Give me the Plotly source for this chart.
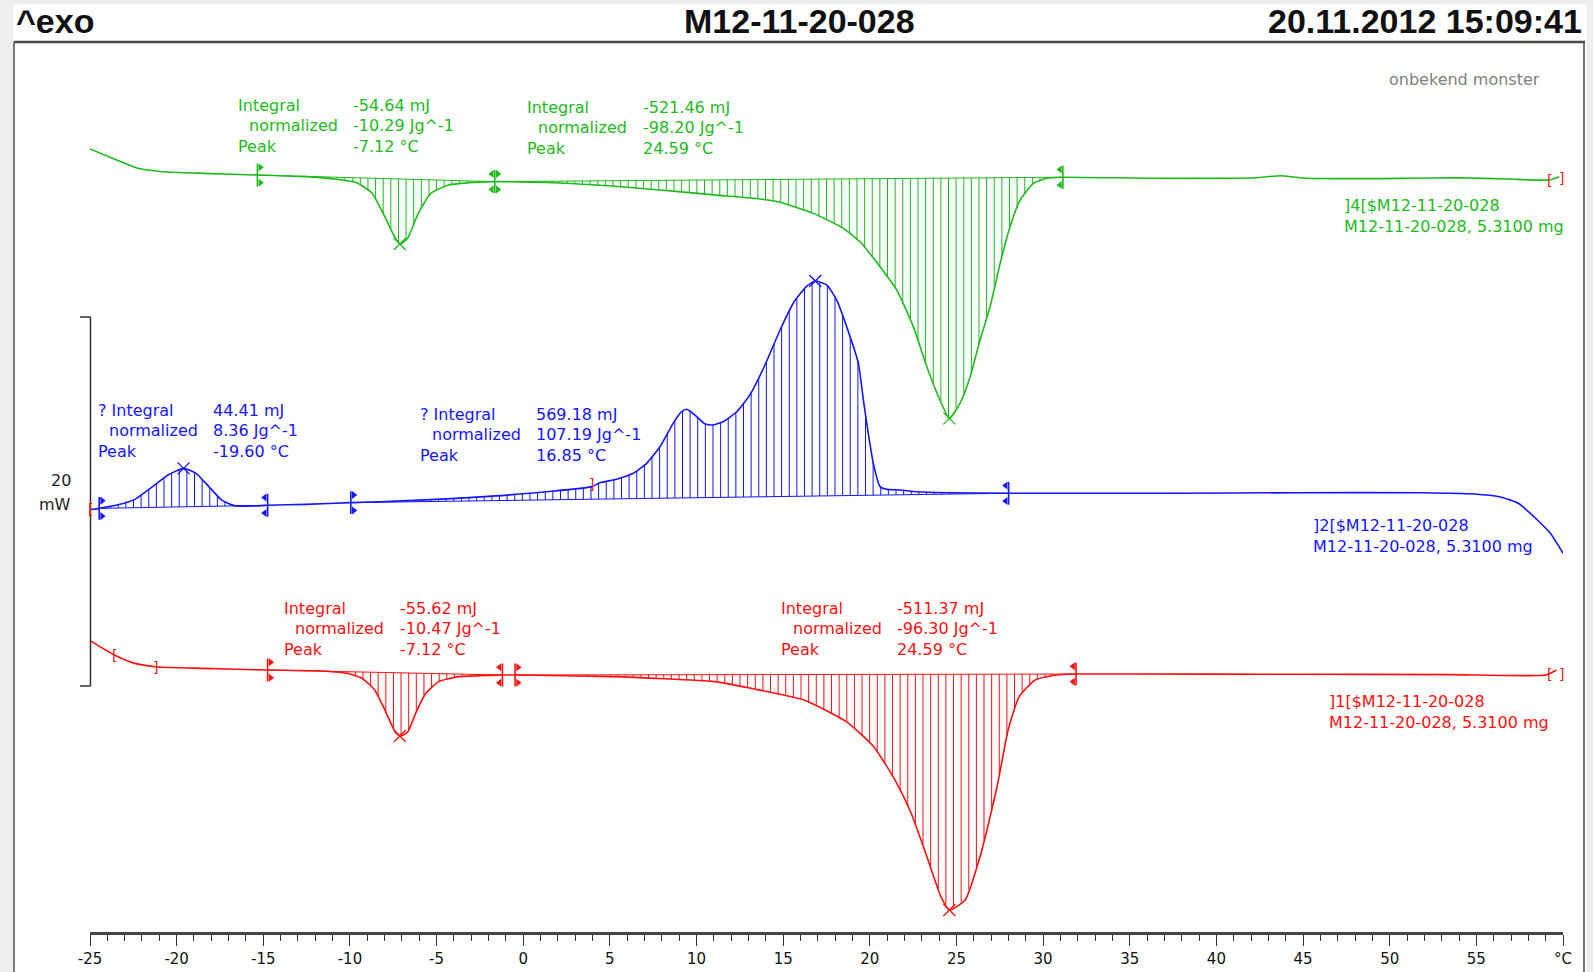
import numpy as np
import plotly.graph_objects as go

# ---------------- data (temperature in °C, heat flow in display mW) ----------------
GREEN_T = [-25.0, -23.46, -22.25, -20.81, -18.44, -15.34, -12.55, -10.78, -9.61, -8.72,
           -7.99, -7.39, -7.10, -6.66, -6.06, -5.33, -4.30, -2.82, -1.64, 2.11,
           5.11, 7.88, 11.0, 13.65, 14.82, 16.74, 18.47, 19.43, 20.59, 21.55,
           22.51, 23.29, 24.05, 24.59, 25.21, 25.79, 26.36, 26.94, 27.52, 28.09,
           28.67, 29.44, 30.21, 31.14, 36.41, 42.24, 43.71, 45.18, 51.02, 53.94,
           56.85, 59.19, 59.78]
GREEN_MW = [42.44, 41.84, 41.39, 41.21, 41.12, 41.03, 40.94, 40.80, 40.61, 40.04,
            38.77, 37.62, 37.29, 37.62, 38.95, 40.04, 40.49, 40.63, 40.67, 40.60,
            40.43, 40.22, 39.95, 39.73, 39.55, 38.95, 38.14, 37.41, 36.06, 34.80,
            32.81, 30.64, 28.83, 27.84, 28.66, 30.10, 32.09, 33.89, 36.24, 38.23,
            39.67, 40.58, 40.85, 40.91, 40.85, 40.88, 40.99, 40.85, 40.85, 40.88,
            40.81, 40.76, 40.94]

BLUE_T = [-25.0, -24.77, -24.47, -23.45, -22.41, -21.39, -20.50, -19.60, -18.88, -18.14,
          -17.40, -16.67, -15.50, -14.75, -12.55, -9.95, -6.66, -0.77, 3.96, 4.42,
          5.39, 6.35, 7.12, 7.89, 8.65, 9.14, 9.43, 9.91, 10.49, 10.96,
          11.54, 12.32, 13.08, 13.95, 14.82, 15.58, 16.36, 16.85, 17.51, 18.09,
          18.86, 19.34, 19.63, 19.91, 20.20, 20.59, 20.98, 21.74, 22.71, 24.52,
          28.01, 37.33, 44.64, 51.94, 54.88, 56.33, 57.42, 58.52, 59.27, 60.0]
BLUE_MW = [22.93, 22.91, 22.96, 23.14, 23.45, 24.14, 24.77, 25.13, 24.86, 24.14,
           23.41, 23.11, 23.09, 23.13, 23.18, 23.27, 23.38, 23.69, 24.14, 24.35,
           24.54, 24.86, 25.40, 26.30, 27.57, 28.20, 28.33, 28.02, 27.53, 27.48,
           27.66, 28.20, 29.11, 30.73, 32.63, 34.08, 35.01, 35.28, 35.07, 34.25,
           32.27, 30.82, 28.83, 27.03, 25.40, 24.14, 23.99, 23.96, 23.86, 23.81,
           23.78, 23.78, 23.81, 23.81, 23.74, 23.59, 23.24, 22.33, 21.61, 20.53]

RED_T = [-25.0, -23.59, -22.56, -21.24, -18.44, -14.75, -11.96, -10.18, -9.31, -8.57,
         -7.98, -7.39, -7.10, -6.66, -6.21, -5.62, -4.88, -3.71, -2.53, -1.20,
         -0.47, 5.13, 11.02, 13.08, 16.20, 18.68, 20.24, 21.45, 22.38, 23.30,
         24.11, 24.59, 25.50, 26.42, 27.34, 27.98, 28.61, 29.54, 30.75, 31.90,
         34.79, 44.12, 53.44, 59.02, 59.62]
RED_MW = [15.79, 15.01, 14.60, 14.38, 14.29, 14.20, 14.16, 14.02, 13.75, 13.12,
          12.03, 10.84, 10.62, 10.84, 11.85, 12.94, 13.57, 13.84, 13.89, 13.93,
          13.93, 13.84, 13.57, 13.22, 12.57, 11.38, 10.03, 8.24, 6.45, 4.07,
          1.90, 1.19, 1.73, 4.28, 7.86, 10.95, 12.74, 13.66, 13.93, 13.98,
          13.98, 13.97, 13.95, 13.93, 14.20]

# integration ranges: (T start, baseline start, T end, baseline end)
GREEN_INT = [(-15.34, 41.03, -1.64, 40.67), (-1.64, 40.67, 31.14, 40.91)]
BLUE_INT = [(-24.47, 22.96, -14.75, 23.13), (-9.95, 23.27, 28.01, 23.78)]
RED_INT = [(-14.75, 14.20, -1.20, 13.93), (-0.47, 13.93, 31.90, 13.98)]

# peaks (T, value)
GREEN_PEAKS = [(-7.12, 37.29), (24.59, 27.84)]
BLUE_PEAKS = [(-19.60, 25.13), (16.85, 35.28)]
RED_PEAKS = [(-7.12, 10.62), (24.59, 1.19)]

# integral result texts
LABELS_STD = ["Integral", "normalized", "Peak"]
LABELS_Q = ["? Integral", "normalized", "Peak"]
G1_VALUES = ["-54.64 mJ", "-10.29 Jg^-1", "-7.12 °C"]
G2_VALUES = ["-521.46 mJ", "-98.20 Jg^-1", "24.59 °C"]
B1_VALUES = ["44.41 mJ", "8.36 Jg^-1", "-19.60 °C"]
B2_VALUES = ["569.18 mJ", "107.19 Jg^-1", "16.85 °C"]
R1_VALUES = ["-55.62 mJ", "-10.47 Jg^-1", "-7.12 °C"]
R2_VALUES = ["-511.37 mJ", "-96.30 Jg^-1", "24.59 °C"]

CURVE_NAMES = {
    "green": ["]4[$M12-11-20-028", "M12-11-20-028, 5.3100 mg"],
    "blue": ["]2[$M12-11-20-028", "M12-11-20-028, 5.3100 mg"],
    "red": ["]1[$M12-11-20-028", "M12-11-20-028, 5.3100 mg"],
}

TICK_VALS = [-25, -20, -15, -10, -5, 0, 5, 10, 15, 20, 25, 30, 35, 40, 45, 50, 55, 60]
TICK_TEXT = ["-25", "-20", "-15", "-10", "-5", "0", "5", "10", "15", "20", "25",
             "30", "35", "40", "45", "50", "55", "°C"]

TITLE_LEFT = "^exo"
TITLE_MID = "M12-11-20-028"
TITLE_RIGHT = "20.11.2012 15:09:41"
SAMPLE_NOTE = "onbekend monster"
SCALE_VALUE = "20"
SCALE_UNIT = "mW"

# ---------------- style ----------------
GREEN = "#1cba1c"
BLUE = "#1515ff"
RED = "#ff1010"
FONT = "DejaVu Sans, Verdana, sans-serif"
TFONT = "Liberation Sans, Arial, sans-serif"

W, H = 1593, 972
ML, MR, MT, MB = 90, 30, 42, 40
PW, PH = W - ML - MR, H - MT - MB
YMAX = PH / 18.45


def px(X):
    return (X - ML) / PW


def py(Y):
    return (H - MB - Y) / PH


fig = go.Figure()


def hatch(T, Y, t0, y0, t1, y1, step=0.44):
    ts = np.arange(t0 + step * 0.5, t1, step)
    yc = np.interp(ts, T, Y)
    yb = y0 + (y1 - y0) * (ts - t0) / (t1 - t0)
    xs, ys = [], []
    for t, a, b in zip(ts, yb, yc):
        xs += [t, t, None]
        ys += [a, b, None]
    return xs, ys


def add_curve(T, Y, ints, peaks, color):
    hx, hy, bx, by = [], [], [], []
    for (t0, y0, t1, y1) in ints:
        xs, ys = hatch(T, Y, t0, y0, t1, y1)
        hx += xs
        hy += ys
        bx += [t0, t1, None]
        by += [y0, y1, None]
    fig.add_trace(go.Scatter(x=hx, y=hy, mode="lines", line=dict(color=color, width=1),
                             hoverinfo="skip", showlegend=False))
    fig.add_trace(go.Scatter(x=bx, y=by, mode="lines", line=dict(color=color, width=1),
                             hoverinfo="skip", showlegend=False))
    fig.add_trace(go.Scatter(x=T, y=Y, mode="lines",
                             line=dict(color=color, width=1.6, shape="spline", smoothing=0.5),
                             showlegend=False))
    lims = {}
    for (t0, y0, t1, y1) in ints:
        lims.setdefault((t0, y0), set()).add("start")
        lims.setdefault((t1, y1), set()).add("end")
    vx, vy, rx, ry, lx, ly = [], [], [], [], [], []
    for (t, y), kinds in lims.items():
        vx += [t, t, None]
        vy += [y - 0.62, y + 0.62, None]
        if "start" in kinds:
            rx += [t + 0.17, t + 0.17]
            ry += [y - 0.42, y + 0.42]
        if "end" in kinds:
            lx += [t - 0.17, t - 0.17]
            ly += [y - 0.42, y + 0.42]
    fig.add_trace(go.Scatter(x=vx, y=vy, mode="lines", line=dict(color=color, width=1.6),
                             hoverinfo="skip", showlegend=False))
    fig.add_trace(go.Scatter(x=rx, y=ry, mode="markers", cliponaxis=False,
                             marker=dict(symbol="triangle-right", size=7, color=color),
                             hoverinfo="skip", showlegend=False))
    fig.add_trace(go.Scatter(x=lx, y=ly, mode="markers", cliponaxis=False,
                             marker=dict(symbol="triangle-left", size=7, color=color),
                             hoverinfo="skip", showlegend=False))
    fig.add_trace(go.Scatter(x=[p[0] for p in peaks], y=[p[1] for p in peaks],
                             mode="markers", cliponaxis=False,
                             marker=dict(symbol="x-thin", size=12,
                                         line=dict(color=color, width=1.3)),
                             hoverinfo="skip", showlegend=False))


add_curve(GREEN_T, GREEN_MW, GREEN_INT, GREEN_PEAKS, GREEN)
add_curve(BLUE_T, BLUE_MW, BLUE_INT, BLUE_PEAKS, BLUE)
add_curve(RED_T, RED_MW, RED_INT, RED_PEAKS, RED)

ann = []


def text(x, y, s, color, size=16, xanchor="left", xref="x", yref="y", family=FONT):
    ann.append(dict(x=x, y=y, xref=xref, yref=yref, text=s, showarrow=False,
                    xanchor=xanchor, yanchor="middle",
                    font=dict(family=family, size=size, color=color)))


# result blocks: (labels, values, label x, value x, first line y, colour)
BLOCKS = [
    (LABELS_STD, G1_VALUES, -16.59, -9.92, 44.79, GREEN),
    (LABELS_STD, G2_VALUES, 0.11, 6.79, 44.68, GREEN),
    (LABELS_Q, B1_VALUES, -24.65, -18.02, 28.27, BLUE),
    (LABELS_Q, B2_VALUES, -6.05, 0.64, 28.05, BLUE),
    (LABELS_STD, R1_VALUES, -13.91, -7.22, 17.53, RED),
    (LABELS_STD, R2_VALUES, 14.78, 21.45, 17.53, RED),
]
for labels, values, lx0, vx0, y0, col in BLOCKS:
    for i in range(3):
        yy = y0 - i * 1.10
        text(lx0 + (0.65 if i == 1 else 0.0), yy, labels[i], col)
        text(vx0, yy, values[i], col)

for key, (xx, yy, col) in {"green": (47.26, 39.35, GREEN), "blue": (45.45, 22.01, BLUE),
                           "red": (46.40, 12.47, RED)}.items():
    text(xx, yy, CURVE_NAMES[key][0], col)
    text(xx, yy - 1.12, CURVE_NAMES[key][1], col)

# bracket marks (red)
for (xx, yy, s) in [(-23.59, 15.01, "["), (-21.24, 14.38, "]"), (-24.95, 22.93, "["),
                    (3.96, 24.30, "]"), (59.2, 40.76, "["), (59.92, 40.85, "]"),
                    (59.2, 13.98, "["), (59.92, 13.98, "]")]:
    ann.append(dict(x=xx, y=yy, xref="x", yref="y", text=s, showarrow=False,
                    xanchor="center", yanchor="middle",
                    font=dict(family=FONT, size=14, color=RED)))

text(58.81, 46.18, SAMPLE_NOTE, "#808080", xanchor="right")
text(px(73), py(480), SCALE_VALUE, "#222222", xanchor="right", xref="paper", yref="paper")
text(px(73), py(504), SCALE_UNIT, "#222222", xanchor="right", xref="paper", yref="paper")

# title row
for X, s, xa in [(14, TITLE_LEFT, "left"), (799, TITLE_MID, "center"),
                 (1584, TITLE_RIGHT, "right")]:
    ann.append(dict(x=px(X), y=py(21), xref="paper", yref="paper", text="<b>%s</b>" % s,
                    showarrow=False, xanchor=xa, yanchor="middle",
                    font=dict(family=TFONT, size=34, color="#111111")))

shapes = [
    dict(type="rect", xref="paper", yref="paper", x0=px(13), x1=px(1587), y0=py(990),
         y1=py(4), fillcolor="white", line=dict(width=0), layer="below"),
    dict(type="line", xref="paper", yref="paper", x0=px(14), x1=px(1585), y0=py(42),
         y1=py(42), line=dict(color="#4a4a4a", width=2.5)),
    dict(type="line", xref="paper", yref="paper", x0=px(14), x1=px(14), y0=py(42),
         y1=py(990), line=dict(color="#4a4a4a", width=1.5)),
    dict(type="line", xref="paper", yref="paper", x0=px(1584), x1=px(1584), y0=py(42),
         y1=py(990), line=dict(color="#4a4a4a", width=1.5)),
    # 20 mW scale bar
    dict(type="line", xref="paper", yref="paper", x0=px(90.5), x1=px(90.5), y0=py(317),
         y1=py(686), line=dict(color="#333333", width=1.5)),
    dict(type="line", xref="paper", yref="paper", x0=px(80), x1=px(90.5), y0=py(317),
         y1=py(317), line=dict(color="#333333", width=1.5)),
    dict(type="line", xref="paper", yref="paper", x0=px(80), x1=px(90.5), y0=py(686),
         y1=py(686), line=dict(color="#333333", width=1.5)),
]

fig.update_layout(
    width=W, height=H, autosize=False,
    margin=dict(l=ML, r=MR, t=MT, b=MB, pad=0),
    paper_bgcolor="#eeeeee", plot_bgcolor="white",
    showlegend=False,
    annotations=ann, shapes=shapes,
    xaxis=dict(range=[-25, 60], tickmode="array", tickvals=TICK_VALS, ticktext=TICK_TEXT,
               ticks="outside", ticklen=11, tickwidth=1, tickcolor="#333333",
               minor=dict(tickmode="linear", tick0=-25, dtick=1, ticks="outside",
                          ticklen=6, tickwidth=1, tickcolor="#333333"),
               showline=True, linewidth=3, linecolor="#444444", showgrid=False,
               zeroline=False, tickfont=dict(family=FONT, size=15, color="#111111"),
               automargin=False, fixedrange=True),
    yaxis=dict(range=[0, YMAX], visible=False, showgrid=False, zeroline=False,
               automargin=False, fixedrange=True),
)

fig.write_html("out.html",
               config={"displayModeBar": False, "staticPlot": True},
               post_script="document.body.style.margin='0';"
                           "document.body.style.overflow='hidden';")
